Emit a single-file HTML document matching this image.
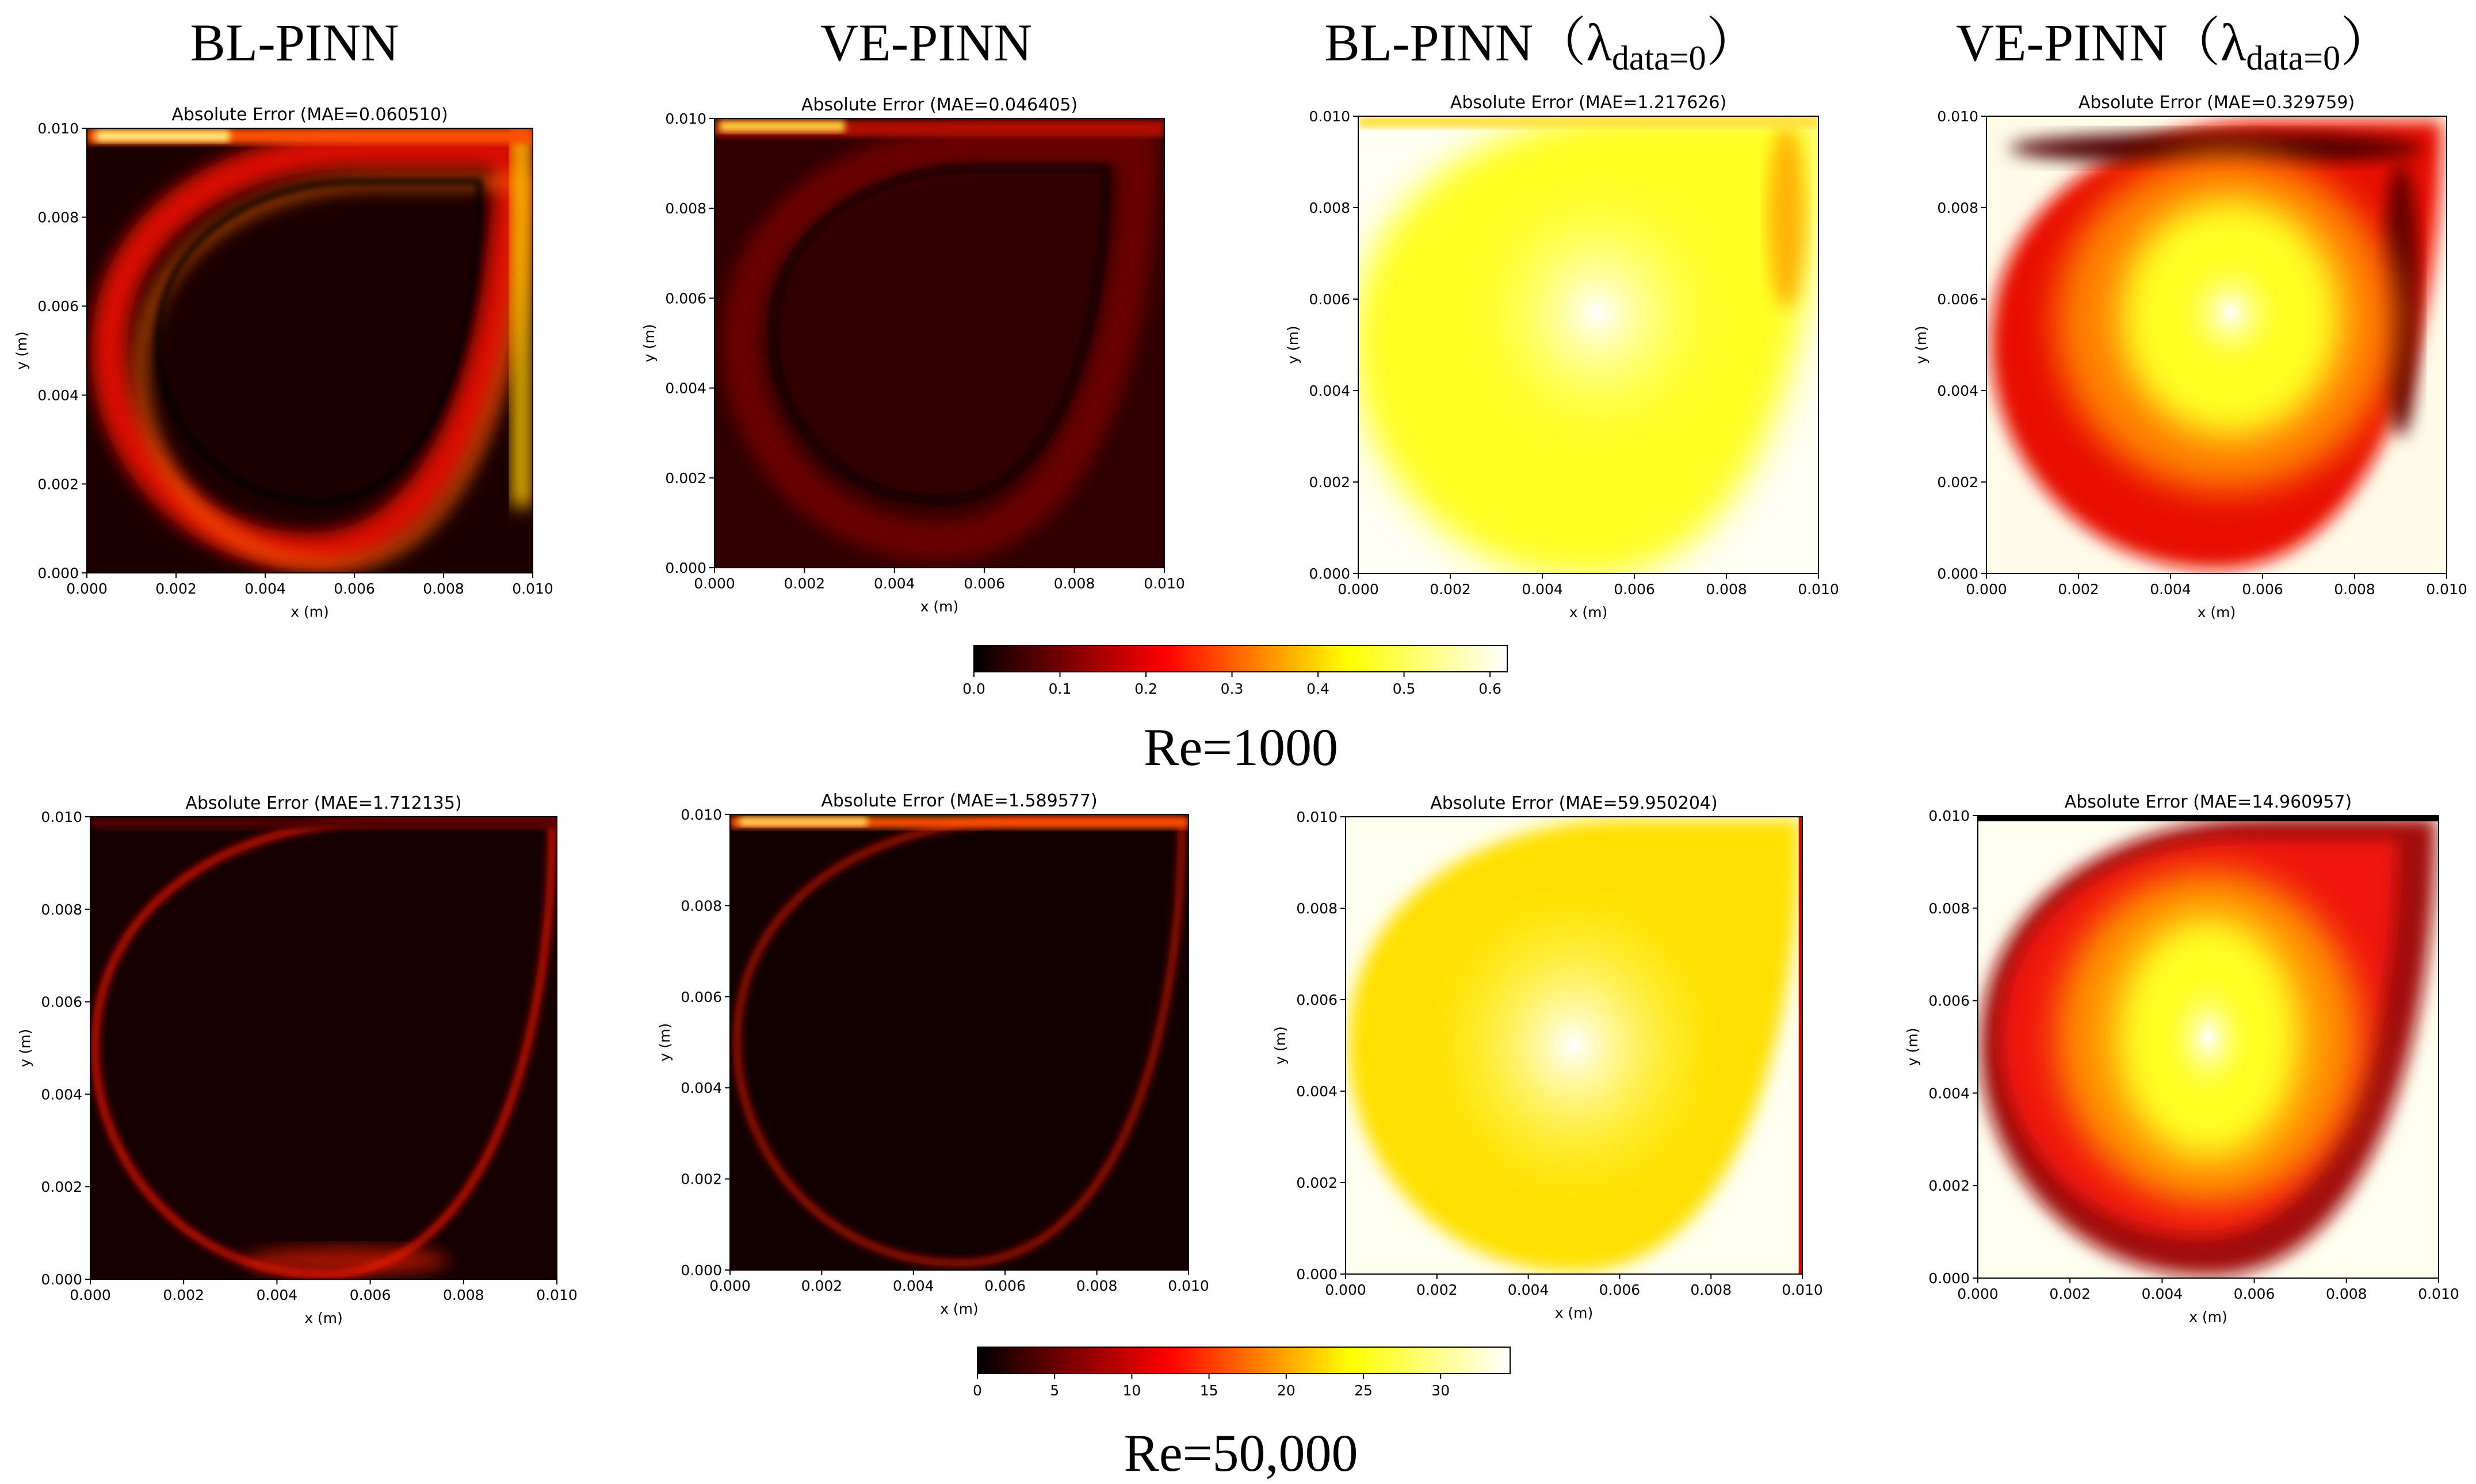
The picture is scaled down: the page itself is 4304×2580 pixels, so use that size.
<!DOCTYPE html>
<html><head><meta charset="utf-8"><title>Absolute error maps</title>
<style>
html,body{margin:0;padding:0;background:#fff;}
svg{display:block;}
.tk{font-family:"DejaVu Sans","Liberation Sans",sans-serif;font-size:25px;fill:#000;}
.ttl{font-family:"DejaVu Sans","Liberation Sans",sans-serif;font-size:30px;fill:#000;}
.big{font-family:"Liberation Serif","Noto Serif CJK SC",serif;font-size:92px;fill:#000;}
</style></head>
<body>
<svg id="fig" width="4304" height="2580" viewBox="0 0 4304 2580" xmlns="http://www.w3.org/2000/svg">
<defs>
<linearGradient id="hot" x1="0" x2="1" y1="0" y2="0">
<stop offset="0" stop-color="#000"/><stop offset="0.36" stop-color="#ff0000"/><stop offset="0.7" stop-color="#ffff00"/><stop offset="1" stop-color="#fff"/>
</linearGradient>
<radialGradient id="whiteCore"><stop offset="0" stop-color="#fff" stop-opacity="1"/><stop offset="1" stop-color="#ffff40" stop-opacity="0"/></radialGradient>
<filter id="b6" x="-20%" y="-20%" width="140%" height="140%"><feGaussianBlur stdDeviation="6"/></filter>
<filter id="b15" x="-20%" y="-20%" width="140%" height="140%"><feGaussianBlur stdDeviation="15"/></filter>
<filter id="b30" x="-30%" y="-30%" width="160%" height="160%"><feGaussianBlur stdDeviation="30"/></filter>
</defs>
<g><text class="big" x="512" y="105" text-anchor="middle">BL-PINN</text></g>
<g><text class="big" x="1610" y="105" text-anchor="middle">VE-PINN</text></g>
<g><text class="big" x="2680" y="105" text-anchor="middle">BL-PINN（λ<tspan font-size="60" dy="16">data=0</tspan><tspan dy="-16">）</tspan></text></g>
<g><text class="big" x="3780" y="105" text-anchor="middle">VE-PINN（λ<tspan font-size="60" dy="16">data=0</tspan><tspan dy="-16">）</tspan></text></g>
<text class="big" x="2157" y="1330" text-anchor="middle">Re=1000</text>
<text class="big" x="2157" y="2557" text-anchor="middle">Re=50,000</text>
<g id="layer"></g>
</svg>
<script>
// tick data
const axisTicks = [0.000, 0.002, 0.004, 0.006, 0.008, 0.010];
const axisTickLabels = ["0.000","0.002","0.004","0.006","0.008","0.010"];
const maeRow1 = ["0.060510","0.046405","1.217626","0.329759"];
const maeRow2 = ["1.712135","1.589577","59.950204","14.960957"];
const cb1Ticks = [0.0,0.1,0.2,0.3,0.4,0.5,0.6];
const cb1Labels = ["0.0","0.1","0.2","0.3","0.4","0.5","0.6"];
const cb1Max = 0.62;
const cb2Ticks = [0,5,10,15,20,25,30];
const cb2Labels = ["0","5","10","15","20","25","30"];
const cb2Max = 34.5;

const NS="http://www.w3.org/2000/svg";
const layer=document.getElementById('layer');
const defs=document.querySelector('defs');
function mk(tag,attrs,parent){const e=document.createElementNS(NS,tag);for(const k in attrs)e.setAttribute(k,attrs[k]);(parent||layer).appendChild(e);return e;}

const panels=[
 {x0:151,x1:926,y0:223,y1:996,mae:maeRow1[0],scene:'p1'},
 {x0:1242,x1:2024,y0:206,y1:987,mae:maeRow1[1],scene:'p2'},
 {x0:2361,x1:3161,y0:202,y1:997,mae:maeRow1[2],scene:'p3'},
 {x0:3453,x1:4253,y0:202,y1:997,mae:maeRow1[3],scene:'p4'},
 {x0:157,x1:968,y0:1420,y1:2224,mae:maeRow2[0],scene:'p5'},
 {x0:1269,x1:2066,y0:1416,y1:2208,mae:maeRow2[1],scene:'p6'},
 {x0:2339,x1:3133,y0:1420,y1:2215,mae:maeRow2[2],scene:'p7'},
 {x0:3438,x1:4239,y0:1418,y1:2222,mae:maeRow2[3],scene:'p8'}
];
// teardrop outline in unit square (y up)
const tdPts=[[1,1],[1,.5],[.85,0],[.5,0],[.2,0],[0,.25],[0,.5],[0,.82],[.3,1],[.62,1]];
const scenes={
 p1:[{t:'r',f:'#1c0000'},
   {t:'td',cx:.5,cy:.5,k:.9,s:'#d81000',sw:.08,b:'b15'},
   {t:'td',cx:.55,cy:.45,k:.86,s:'#ff6a00',sw:.03,b:'b15',o:.7,part:1},
   {t:'td',cx:.52,cy:.52,k:.72,s:'#000',sw:.012,b:'b6'},
   {t:'b',x:.955,y:.15,w:.04,h:.85,f:'#ffc800',b:'b15'},
   {t:'b',x:.0,y:.965,w:1,h:.035,f:'#ff5000',b:'b6'},
   {t:'b',x:.02,y:.97,w:.3,h:.025,f:'#ffee80',b:'b6'}],
 p2:[{t:'r',f:'#300000'},
   {t:'td',cx:.5,cy:.5,k:.88,s:'#680000',sw:.09,b:'b15'},
   {t:'td',cx:.5,cy:.52,k:.74,s:'#0a0000',sw:.012,b:'b6'},
   {t:'b',x:.0,y:.96,w:1,h:.035,f:'#b01000',b:'b6'},
   {t:'b',x:.01,y:.97,w:.28,h:.025,f:'#ffd040',b:'b6'}],
 p3:[{t:'r',f:'#fffff4'},
   {t:'td',cx:.5,cy:.5,k:1.02,f:'#ffff20',b:'b30'},
   {t:'e',cx:.93,cy:.78,rx:.04,ry:.2,f:'#ffa000',b:'b15',o:.8},
   {t:'e',cx:.52,cy:.57,rx:.3,ry:.32,f:'url(#whiteCore)'},
   {t:'b',x:.0,y:.975,w:1,h:.025,f:'#ffe040',b:'b6'}],
 p4:[{t:'r',f:'#fffbe8'},
   {t:'td',cx:.5,cy:.5,k:.98,f:'#e81000',b:'b15'},
   {t:'e',cx:.9,cy:.6,rx:.04,ry:.3,f:'#600000',b:'b15'},
   {t:'e',cx:.5,cy:.93,rx:.45,ry:.035,f:'#500000',b:'b15'},
   {t:'e',cx:.52,cy:.55,rx:.37,ry:.37,f:'#ff8000',b:'b30'},
   {t:'e',cx:.53,cy:.56,rx:.24,ry:.26,f:'#ffff20',b:'b30'},
   {t:'e',cx:.53,cy:.57,rx:.12,ry:.13,f:'url(#whiteCore)'}],
 p5:[{t:'r',f:'#160000'},
   {t:'td',cx:.5,cy:.5,k:.98,s:'#b80800',sw:.018,b:'b6'},
   {t:'e',cx:.55,cy:.04,rx:.22,ry:.03,f:'#ff2000',b:'b15',o:.6},
   {t:'b',x:0,y:.975,w:1,h:.025,f:'#500000',b:'b6'}],
 p6:[{t:'r',f:'#120000'},
   {t:'td',cx:.5,cy:.5,k:.97,s:'#900800',sw:.018,b:'b6'},
   {t:'b',x:0,y:.97,w:1,h:.025,f:'#ff5000',b:'b6'},
   {t:'b',x:.02,y:.975,w:.28,h:.018,f:'#ffe060',b:'b6'}],
 p7:[{t:'r',f:'#fffff0'},
   {t:'td',cx:.5,cy:.5,k:.99,f:'#ffe000',b:'b15'},
   {t:'e',cx:.5,cy:.5,rx:.32,ry:.35,f:'url(#whiteCore)'},
   {t:'b',x:.992,y:0,w:.008,h:1,f:'#e00000'}],
 p8:[{t:'r',f:'#fffff0'},
   {t:'td',cx:.5,cy:.5,k:.99,f:'#a00808',b:'b15'},
   {t:'td',cx:.48,cy:.52,k:.86,f:'#f01808',b:'b15'},
   {t:'e',cx:.5,cy:.52,rx:.33,ry:.36,f:'#ff9000',b:'b30'},
   {t:'e',cx:.5,cy:.52,rx:.2,ry:.26,f:'#ffff20',b:'b30'},
   {t:'e',cx:.5,cy:.52,rx:.1,ry:.14,f:'url(#whiteCore)'},
   {t:'b',x:0,y:.988,w:1,h:.012,f:'#000'}]
};

panels.forEach((p,i)=>{
  const W=p.x1-p.x0,H=p.y1-p.y0;
  const sx=v=>p.x0+v/0.01*W, sy=v=>p.y1-v/0.01*H;
  const nx=u=>p.x0+u*W, ny=u=>p.y1-u*H;
  const g=mk('g',{});
  
  
  const cp=mk('clipPath',{id:'cp'+i},defs);
  mk('rect',{x:p.x0,y:p.y0,width:W,height:H},cp);
  const hm=mk('g',{'clip-path':'url(#cp'+i+')'},g);
  
  
  scenes[p.scene].forEach(s=>{
    let e;
    if(s.t==='r') e=mk('rect',{x:p.x0,y:p.y0,width:W,height:H,fill:s.f},hm);
    else if(s.t==='b') e=mk('rect',{x:nx(s.x),y:ny(s.y+s.h),width:s.w*W,height:s.h*H,fill:s.f},hm);
    else if(s.t==='td'){
      const P=tdPts.map(q=>[nx(s.cx+(q[0]-.5)*s.k),ny(s.cy+(q[1]-.5)*s.k)]);
      let d='M'+P[0].join(',');
      for(let j=1;j<P.length;j+=3){const c=[P[j],P[j+1],P[(j+2)%P.length]||P[0]];d+=' C'+c.map(a=>a.join(',')).join(' ');}
      d+=' Z';
      e=mk('path',{d:d},hm);
      if(s.s){e.setAttribute('fill','none');e.setAttribute('stroke',s.s);e.setAttribute('stroke-width',s.sw*W);} else e.setAttribute('fill',s.f);
    }
    else { e=mk('ellipse',{cx:nx(s.cx),cy:ny(s.cy),rx:s.rx*W,ry:s.ry*H},hm);
      if(s.s){e.setAttribute('fill','none');e.setAttribute('stroke',s.s);e.setAttribute('stroke-width',s.sw*W);} else e.setAttribute('fill',s.f);}
    if(s.b) e.setAttribute('filter','url(#'+s.b+')');
    if(s.o) e.setAttribute('opacity',s.o);
  });
  mk('rect',{x:p.x0,y:p.y0,width:W,height:H,fill:'none',stroke:'#000','stroke-width':2},g);
  axisTicks.forEach((t,k)=>{
    mk('line',{x1:sx(t),x2:sx(t),y1:p.y1,y2:p.y1+9,stroke:'#000','stroke-width':2},g);
    const tx=mk('text',{x:sx(t),y:p.y1+36,'text-anchor':'middle',class:'tk'},g);tx.textContent=axisTickLabels[k];
    mk('line',{x1:p.x0-9,x2:p.x0,y1:sy(t),y2:sy(t),stroke:'#000','stroke-width':2},g);
    const ty=mk('text',{x:p.x0-14,y:sy(t)+9,'text-anchor':'end',class:'tk'},g);ty.textContent=axisTickLabels[k];
  });
  const xl=mk('text',{x:(p.x0+p.x1)/2,y:p.y1+76,'text-anchor':'middle',class:'tk'},g);xl.textContent='x (m)';
  
  const cy=(p.y0+p.y1)/2;
  const yl=mk('text',{x:p.x0-105,y:cy,'text-anchor':'middle',class:'tk',transform:'rotate(-90 '+(p.x0-105)+' '+cy+')'},g);yl.textContent='y (m)';
  
  const tt=mk('text',{x:(p.x0+p.x1)/2,y:p.y0-14,'text-anchor':'middle',class:'ttl'},g);tt.textContent='Absolute Error (MAE='+p.mae+')';
  
});

function colorbar(x0,x1,y0,y1,ticks,labels,max,name){
  const g=mk('g',{});
  
  
  mk('rect',{x:x0,y:y0,width:x1-x0,height:y1-y0,fill:'url(#hot)',stroke:'#000','stroke-width':2},g);
  const s=v=>x0+v/max*(x1-x0);
  ticks.forEach((t,k)=>{
    mk('line',{x1:s(t),x2:s(t),y1:y1,y2:y1+9,stroke:'#000','stroke-width':2},g);
    const tx=mk('text',{x:s(t),y:y1+38,'text-anchor':'middle',class:'tk'},g);tx.textContent=labels[k];
  });
}
colorbar(1693,2620,1122,1168,cb1Ticks,cb1Labels,cb1Max,'colorbar-re1000');
colorbar(1699,2625,2342,2388,cb2Ticks,cb2Labels,cb2Max,'colorbar-re50000');
</script>
</body></html>
